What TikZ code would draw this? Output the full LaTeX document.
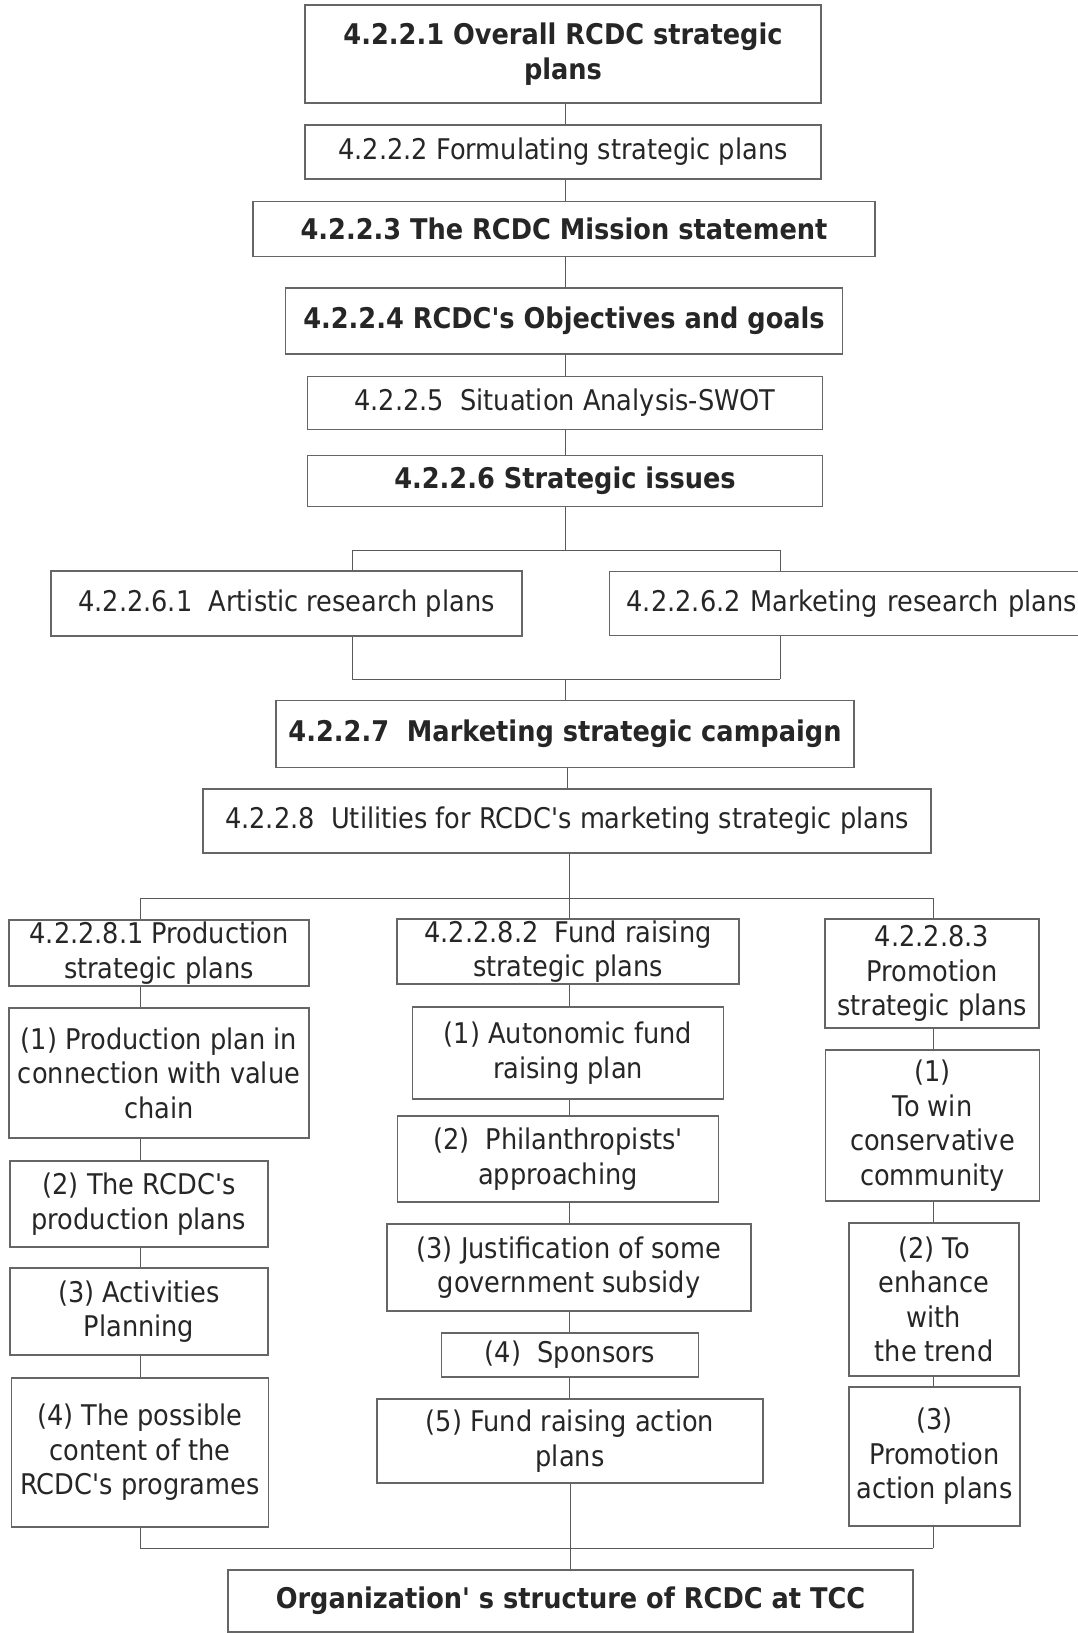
\documentclass[tikz,border=0pt]{standalone}
\usepackage{fontspec}
\setmainfont{DejaVu Sans}[Ligatures=TeXOff, FakeStretch=0.9, BoldFeatures={FakeStretch=0.9}]
\begin{document}
\begin{tikzpicture}[x=1pt,y=-1pt,
  box/.style={draw=black!60, line width=1.2pt, fill=white, inner sep=0pt, align=center, text=black!85, font=\fontsize{28.5}{34.5}\selectfont},
  bbox/.style={box, font=\fontsize{28.5}{34.5}\selectfont\bfseries},
  conn/.style={draw=black!65, line width=1pt}]
\clip (0,0) rectangle (1078,1633);
\fill[white] (0,0) rectangle (1078,1633);
% coordinates for connector routing
\coordinate (cx) at (565,0);
\coordinate (cA) at (565,550);
\coordinate (cB) at (565,679);
\coordinate (brTL) at (352,550);
\coordinate (brTR) at (780,550);
\coordinate (brBL) at (352,679);
\coordinate (brBR) at (780,679);
\coordinate (cx2) at (567,0);
\coordinate (barL) at (140,898);
\coordinate (barM) at (569,898);
\coordinate (barR) at (933,898);
\coordinate (botL) at (140,1548);
\coordinate (botR) at (933,1548);
\coordinate (mx) at (570,0);
% connectors (drawn first, boxes cover them)
\draw[conn] (brTL) -- (brTR);
\draw[conn] (brBL) -- (brBR);
\draw[conn] (brTL) -- (brBL);
\draw[conn] (brTR) -- (brBR);
\draw[conn] (barL) -- (barR);
\draw[conn] (botL) -- (botR);
% top chain
\node[bbox, minimum width=516pt, minimum height=98pt] (b1) at (563,54) {4.2.2.1 Overall RCDC strategic\\plans};
\node[box, minimum width=516pt, minimum height=54pt] (b2) at (563,152) {4.2.2.2 Formulating strategic plans};
\node[bbox, minimum width=622pt, minimum height=55pt] (b3) at (564,229) {4.2.2.3 The RCDC Mission statement};
\node[bbox, minimum width=557pt, minimum height=66pt] (b4) at (564,321) {4.2.2.4 RCDC's Objectives and goals};
\node[box, minimum width=515pt, minimum height=53pt] (b5) at (565,403) {4.2.2.5\ \ Situation Analysis-SWOT};
\node[bbox, minimum width=515pt, minimum height=51pt] (b6) at (565,481) {4.2.2.6 Strategic issues};
\node[box, minimum width=471pt, minimum height=65pt] (r61) at (286.5,603.5) {4.2.2.6.1\ \ Artistic research plans};
\node[box, minimum width=491pt, minimum height=64pt, anchor=north west, inner xsep=17pt, text width=457pt, align=left] (r62) at (609,571) {4.2.2.6.2 Marketing research plans};
\node[bbox, minimum width=578pt, minimum height=67pt] (b7) at (565,734) {4.2.2.7\ \ Marketing strategic campaign};
\node[box, minimum width=728pt, minimum height=64pt] (b8) at (567,821) {4.2.2.8\ \ Utilities for RCDC's marketing strategic plans};
% left column
\node[box, minimum width=300pt, minimum height=66pt] (l81) at (159,953) {4.2.2.8.1 Production\\strategic plans};
\node[box, minimum width=300pt, minimum height=130pt] (l1) at (159,1073) {(1) Production plan in\\connection with value\\chain};
\node[box, minimum width=258pt, minimum height=86pt] (l2) at (139,1204) {(2) The RCDC's\\production plans};
\node[box, minimum width=258pt, minimum height=87pt] (l3) at (139,1311.5) {(3) Activities\\Planning};
\node[box, minimum width=257pt, minimum height=149pt] (l4) at (140,1452.5) {(4) The possible\\content of the\\RCDC's programes};
% middle column
\node[box, minimum width=342pt, minimum height=65pt] (m82) at (568,951.5) {4.2.2.8.2\ \ Fund raising\\strategic plans};
\node[box, minimum width=311pt, minimum height=92pt] (m1) at (568,1053) {(1) Autonomic fund\\raising plan};
\node[box, minimum width=321pt, minimum height=86pt] (m2) at (558,1159) {(2)\ \ Philanthropists'\\approaching};
\node[box, minimum width=364pt, minimum height=87pt] (m3) at (569,1267.5) {(3) Justification of some\\government subsidy};
\node[box, minimum width=257pt, minimum height=44pt] (m4) at (570,1355) {(4)\ \ Sponsors};
\node[box, minimum width=386pt, minimum height=84pt] (m5) at (570,1441) {(5) Fund raising action\\plans};
% right column
\node[box, minimum width=214pt, minimum height=109pt] (r83) at (932,973.5) {4.2.2.8.3\\Promotion\\strategic plans};
\node[box, minimum width=214pt, minimum height=151pt] (r1) at (932.5,1125.5) {(1)\\To win\\conservative\\community};
\node[box, minimum width=170pt, minimum height=153pt] (r2) at (934,1299.5) {(2) To\\enhance\\with\\the trend};
\node[box, minimum width=171pt, minimum height=139pt] (r3) at (934.5,1456.5) {(3)\\Promotion\\action plans};
% bottom
\node[bbox, minimum width=685pt, minimum height=62pt] (fin) at (570.5,1601) {Organization' s structure of RCDC at TCC};
% connectors between boxes
\draw[conn] (b1.south -| cx) -- (b2.north -| cx);
\draw[conn] (b2.south -| cx) -- (b3.north -| cx);
\draw[conn] (b3.south -| cx) -- (b4.north -| cx);
\draw[conn] (b4.south -| cx) -- (b5.north -| cx);
\draw[conn] (b5.south -| cx) -- (b6.north -| cx);
\draw[conn] (b6.south -| cx) -- (cA);
\draw[conn] (cB) -- (b7.north -| cx);
\draw[conn] (b7.south -| cx2) -- (b8.north -| cx2);
\draw[conn] (b8.south -| barM) -- (barM);
\draw[conn] (barL) -- (l81.north -| barL);
\draw[conn] (barM) -- (m82.north -| barM);
\draw[conn] (barR) -- (r83.north -| barR);
\draw[conn] (l81.south -| barL) -- (l1.north -| barL);
\draw[conn] (l1.south -| barL) -- (l2.north -| barL);
\draw[conn] (l2.south -| barL) -- (l3.north -| barL);
\draw[conn] (l3.south -| barL) -- (l4.north -| barL);
\draw[conn] (l4.south -| barL) -- (botL);
\draw[conn] (m82.south -| barM) -- (m1.north -| barM);
\draw[conn] (m1.south -| barM) -- (m2.north -| barM);
\draw[conn] (m2.south -| barM) -- (m3.north -| barM);
\draw[conn] (m3.south -| barM) -- (m4.north -| barM);
\draw[conn] (m4.south -| barM) -- (m5.north -| barM);
\draw[conn] (m5.south -| mx) -- (fin.north -| mx);
\draw[conn] (r83.south -| barR) -- (r1.north -| barR);
\draw[conn] (r1.south -| barR) -- (r2.north -| barR);
\draw[conn] (r2.south -| barR) -- (r3.north -| barR);
\draw[conn] (r3.south -| botR) -- (botR);
\end{tikzpicture}
\end{document}
